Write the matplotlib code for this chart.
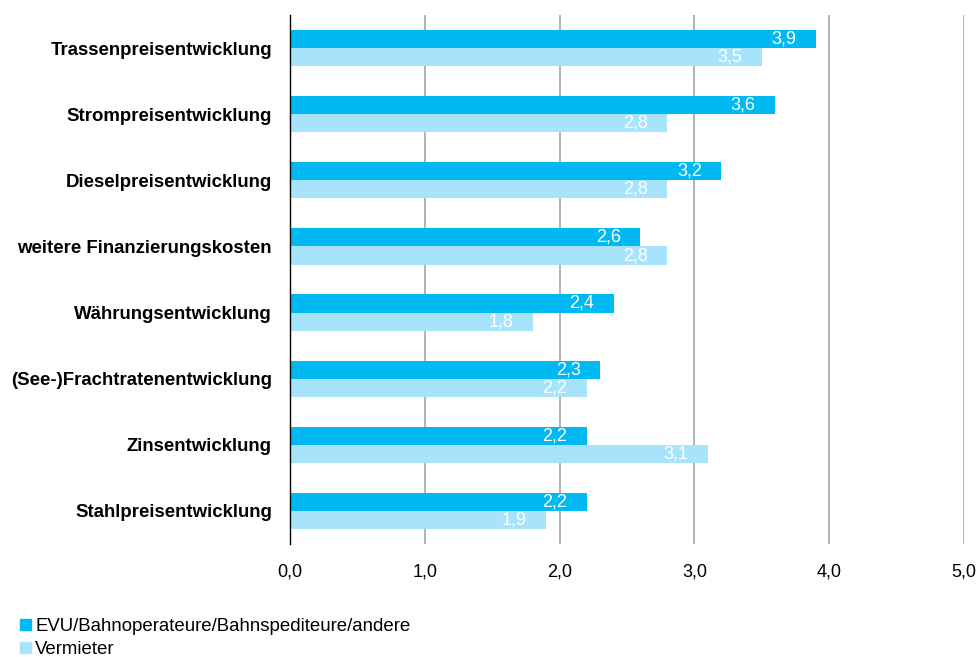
import matplotlib
matplotlib.use("Agg")
import matplotlib.pyplot as plt
from matplotlib.patches import Patch

plt.rcParams['font.family'] = ['Liberation Sans', 'DejaVu Sans']

categories = [
    "Trassenpreisentwicklung",
    "Strompreisentwicklung",
    "Dieselpreisentwicklung",
    "weitere Finanzierungskosten",
    "Währungsentwicklung",
    "(See-)Frachtratenentwicklung",
    "Zinsentwicklung",
    "Stahlpreisentwicklung",
]
evu = [3.9, 3.6, 3.2, 2.6, 2.4, 2.3, 2.2, 2.2]
vermieter = [3.5, 2.8, 2.8, 2.8, 1.8, 2.2, 3.1, 1.9]
series_names = ["EVU/Bahnoperateure/Bahnspediteure/andere", "Vermieter"]
xticks = [0, 1, 2, 3, 4, 5]

dark = "#00B9F2"
light = "#A7E4FC"

fig = plt.figure(figsize=(9.78, 6.57), dpi=100)
ax = fig.add_axes([290 / 978, 1 - 544 / 657, 674 / 978, 529 / 657])

n = len(categories)
h = 0.275
ys = list(range(n))
ax.barh([y - h / 2 for y in ys], evu, height=h, color=dark, zorder=3)
ax.barh([y + h / 2 for y in ys], vermieter, height=h, color=light, zorder=3)

for y, v in zip(ys, evu):
    ax.annotate(f"{v:.1f}".replace(".", ","), (v, y - h / 2), xytext=(-14, 0),
                textcoords="offset points", ha="right", va="center",
                color="white", fontsize=13, zorder=4)
for y, v in zip(ys, vermieter):
    ax.annotate(f"{v:.1f}".replace(".", ","), (v, y + h / 2), xytext=(-14, 0),
                textcoords="offset points", ha="right", va="center",
                color="white", fontsize=13, zorder=4)

ax.set_ylim(n - 0.5, -0.5)
ax.set_xlim(0, 5)
ax.set_yticks(ys)
ax.set_yticklabels(categories, fontsize=13.4, fontweight="bold")
ax.set_xticks(xticks)
ax.set_xticklabels([f"{t:.1f}".replace(".", ",") for t in xticks], fontsize=13)
ax.tick_params(axis="y", length=0, pad=13)
ax.tick_params(axis="x", length=0, pad=14)

ax.xaxis.grid(True, color="#A6A6A6", linewidth=1.2, zorder=0)
for side in ["top", "right", "bottom"]:
    ax.spines[side].set_visible(False)
ax.spines["left"].set_color("black")
ax.spines["left"].set_linewidth(1.0)
ax.spines["left"].set_zorder(5)

handles = [Patch(color=dark), Patch(color=light)]
fig.legend(handles, series_names, loc="upper left",
           bbox_to_anchor=(11 / 978, 1 - 609 / 657), frameon=False,
           fontsize=13.4, handlelength=0.55, handleheight=0.55, handletextpad=0.25,
           labelspacing=0.33, borderpad=0)

fig.savefig("out.png", dpi=100)
